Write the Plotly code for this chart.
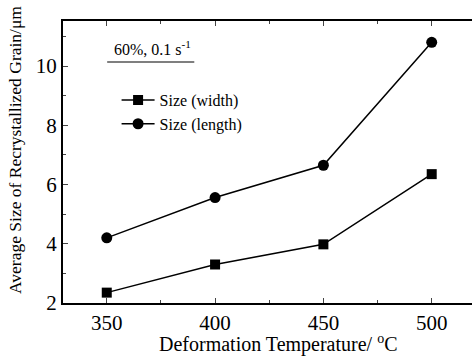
import plotly.graph_objects as go

temps = [350, 400, 450, 500]
width_vals = [2.35, 3.30, 3.98, 6.35]
length_vals = [4.20, 5.56, 6.65, 10.8]
x_ticks = [350, 400, 450, 500]
y_ticks = [2, 4, 6, 8, 10]

FONT = "Liberation Serif"

fig = go.Figure()
fig.add_trace(go.Scatter(
    x=temps, y=width_vals, mode="lines+markers", name="Size (width)",
    line=dict(color="black", width=1.5),
    marker=dict(symbol="square", size=10, color="black"),
))
fig.add_trace(go.Scatter(
    x=temps, y=length_vals, mode="lines+markers", name="Size (length)",
    line=dict(color="black", width=1.5),
    marker=dict(symbol="circle", size=11, color="black"),
))

fig.update_layout(
    width=472, height=356,
    margin=dict(l=63, r=0, t=21, b=53),
    paper_bgcolor="white", plot_bgcolor="white",
    font=dict(family=FONT, color="black"),
    showlegend=True,
    legend=dict(x=0.131, y=0.78, xanchor="left", yanchor="top",
                bgcolor="rgba(0,0,0,0)", font=dict(size=16, family=FONT),
                tracegroupgap=0, itemwidth=33),
    xaxis=dict(
        range=[329.8, 518.6], tickvals=x_ticks, ticks="inside", ticklen=5,
        tickwidth=1.2, showline=True, linecolor="black", linewidth=2,
        mirror="ticks", showgrid=False, zeroline=False,
        tickfont=dict(size=21, family=FONT),
        minor=dict(tickvals=[375, 425, 475], ticks="inside", ticklen=3, tickwidth=1.2),
    ),
    yaxis=dict(
        range=[2, 11.52], tickvals=y_ticks, ticks="inside", ticklen=5,
        tickwidth=1.2, showline=True, linecolor="black", linewidth=2,
        mirror=False, showgrid=False, zeroline=False,
        tickfont=dict(size=21, family=FONT),
        minor=dict(tickvals=[3, 5, 7, 9, 11], ticks="inside", ticklen=3, tickwidth=1.2),
    ),
)

# axis titles
fig.add_annotation(
    x=0.526, y=-0.142, xref="paper", yref="paper", xanchor="center", yanchor="middle",
    text="Deformation Temperature/ <sup>o</sup>C", showarrow=False,
    font=dict(size=20, family=FONT),
)
fig.add_annotation(
    x=-0.117, y=0.543, xref="paper", yref="paper", xanchor="center", yanchor="middle",
    text="Average Size of Recrystallized Grain/\u03bcm", showarrow=False, textangle=-90,
    font=dict(size=17.5, family=FONT),
)

fig.add_annotation(
    x=0.12, y=0.862, xref="paper", yref="paper", xanchor="left", yanchor="bottom",
    text="60%, 0.1 s<sup>-1</sup>", showarrow=False, font=dict(size=16, family=FONT),
)
fig.add_shape(type="line", xref="paper", yref="paper",
              x0=0.108, x1=0.321, y0=0.855, y1=0.855,
              line=dict(color="#555555", width=1.5))

fig.write_html("out.html")
